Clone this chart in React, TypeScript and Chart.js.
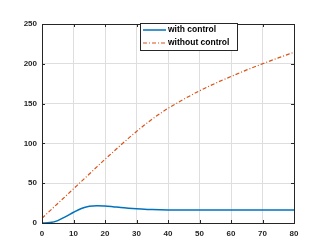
import React, { useEffect, useRef } from "react";
import { Chart, registerables } from "chart.js";

Chart.register(...registerables);

const time = [0, 2.5, 5, 7.5, 10, 12.5, 15, 17.5, 20, 22.5, 25, 27.5, 30, 32.5, 35, 37.5, 40, 45, 50, 55, 60, 65, 70, 75, 80];
const withControl = [0, 0.5, 3, 8, 13.5, 18.3, 21, 21.8, 21.3, 20.4, 19.4, 18.6, 17.9, 17.3, 16.9, 16.6, 16.4, 16.2, 16.2, 16.2, 16.2, 16.2, 16.2, 16.2, 16.2];
const withoutControl = [6, 15.2, 24.5, 33.7, 43, 52.2, 61.5, 70.8, 80, 89, 97.9, 106.6, 115, 123, 130.5, 137.5, 144, 155.5, 166, 175.5, 184, 192.3, 200, 207.4, 214.5];
const xTicks = [0, 10, 20, 30, 40, 50, 60, 70, 80];
const yTicks = [0, 50, 100, 150, 200, 250];
const seriesLabels = ["with control", "without control"];

const BLUE = "#0072BD";
const ORANGE = "#D95319";
const FONT = "'Liberation Sans', Arial, Helvetica, sans-serif";

const framePlugin = {
  id: "frame",
  afterDatasetsDraw(chart: any) {
    const { ctx, chartArea: a, scales } = chart;
    ctx.save();
    ctx.strokeStyle = "#262626";
    ctx.lineWidth = 1;
    const tl = 3;
    ctx.beginPath();
    xTicks.forEach((v) => {
      const px = Math.round(scales.x.getPixelForValue(v)) + 0.5;
      ctx.moveTo(px, a.bottom);
      ctx.lineTo(px, a.bottom - tl);
      ctx.moveTo(px, a.top);
      ctx.lineTo(px, a.top + tl);
    });
    yTicks.forEach((v) => {
      const py = Math.round(scales.y.getPixelForValue(v)) + 0.5;
      ctx.moveTo(a.left, py);
      ctx.lineTo(a.left + tl, py);
      ctx.moveTo(a.right, py);
      ctx.lineTo(a.right - tl, py);
    });
    ctx.stroke();
    ctx.strokeRect(Math.round(a.left) + 0.5, Math.round(a.top) + 0.5, Math.round(a.right - a.left), Math.round(a.bottom - a.top));

    // legend
    const lx = 140.5, ly = 23.5, lw = 97, lh = 27;
    ctx.fillStyle = "#ffffff";
    ctx.fillRect(lx, ly, lw, lh);
    ctx.strokeStyle = "#262626";
    ctx.strokeRect(lx, ly, lw, lh);
    const rows = [30, 43];
    const colors = [BLUE, ORANGE];
    rows.forEach((ry, i) => {
      ctx.beginPath();
      ctx.strokeStyle = colors[i];
      ctx.lineWidth = i === 0 ? 1.5 : 1.2;
      ctx.setLineDash(i === 0 ? [] : [4, 2, 1, 2]);
      ctx.moveTo(143, ry);
      ctx.lineTo(166, ry);
      ctx.stroke();
      ctx.setLineDash([]);
      ctx.fillStyle = "#000";
      ctx.font = `bold 8.5px ${FONT}`;
      ctx.textBaseline = "middle";
      ctx.textAlign = "left";
      ctx.fillText(seriesLabels[i], 168, ry);
    });
    ctx.restore();
  },
};

export default function App() {
  const ref = useRef<HTMLCanvasElement>(null);
  useEffect(() => {
    document.body.style.margin = "0";
    const chart = new Chart(ref.current!, {
      type: "line",
      data: {
        datasets: [
          {
            label: seriesLabels[0],
            data: time.map((t, i) => ({ x: t, y: withControl[i] })),
            borderColor: BLUE,
            borderWidth: 1.5,
            pointRadius: 0,
            cubicInterpolationMode: "monotone",
          },
          {
            label: seriesLabels[1],
            data: time.map((t, i) => ({ x: t, y: withoutControl[i] })),
            borderColor: ORANGE,
            borderWidth: 1.2,
            borderDash: [4, 2, 1, 2],
            pointRadius: 0,
            cubicInterpolationMode: "monotone",
          },
        ],
      },
      options: {
        animation: false,
        responsive: false,
        events: [],
        layout: { padding: { top: 24, right: 15, left: 0, bottom: 0 } },
        plugins: { legend: { display: false }, tooltip: { enabled: false } },
        scales: {
          x: {
            type: "linear",
            min: 0,
            max: 80,
            afterBuildTicks: (s: any) => { s.ticks = xTicks.map((v) => ({ value: v })); },
            afterFit: (s: any) => { s.height = 21; },
            grid: { color: "#dedede", drawTicks: false, lineWidth: 1 },
            border: { display: false },
            ticks: { padding: 6, color: "#262626", font: { family: FONT, size: 8, weight: "bold" }, maxRotation: 0 },
          },
          y: {
            type: "linear",
            min: 0,
            max: 250,
            afterBuildTicks: (s: any) => { s.ticks = yTicks.map((v) => ({ value: v })); },
            afterFit: (s: any) => { s.width = 42; },
            grid: { color: "#dedede", drawTicks: false, lineWidth: 1 },
            border: { display: false },
            ticks: { padding: 5, color: "#262626", font: { family: FONT, size: 8, weight: "bold" } },
          },
        },
      },
      plugins: [framePlugin],
    });
    return () => chart.destroy();
  }, []);
  return <canvas ref={ref} width={309} height={244} style={{ display: "block" }} />;
}
